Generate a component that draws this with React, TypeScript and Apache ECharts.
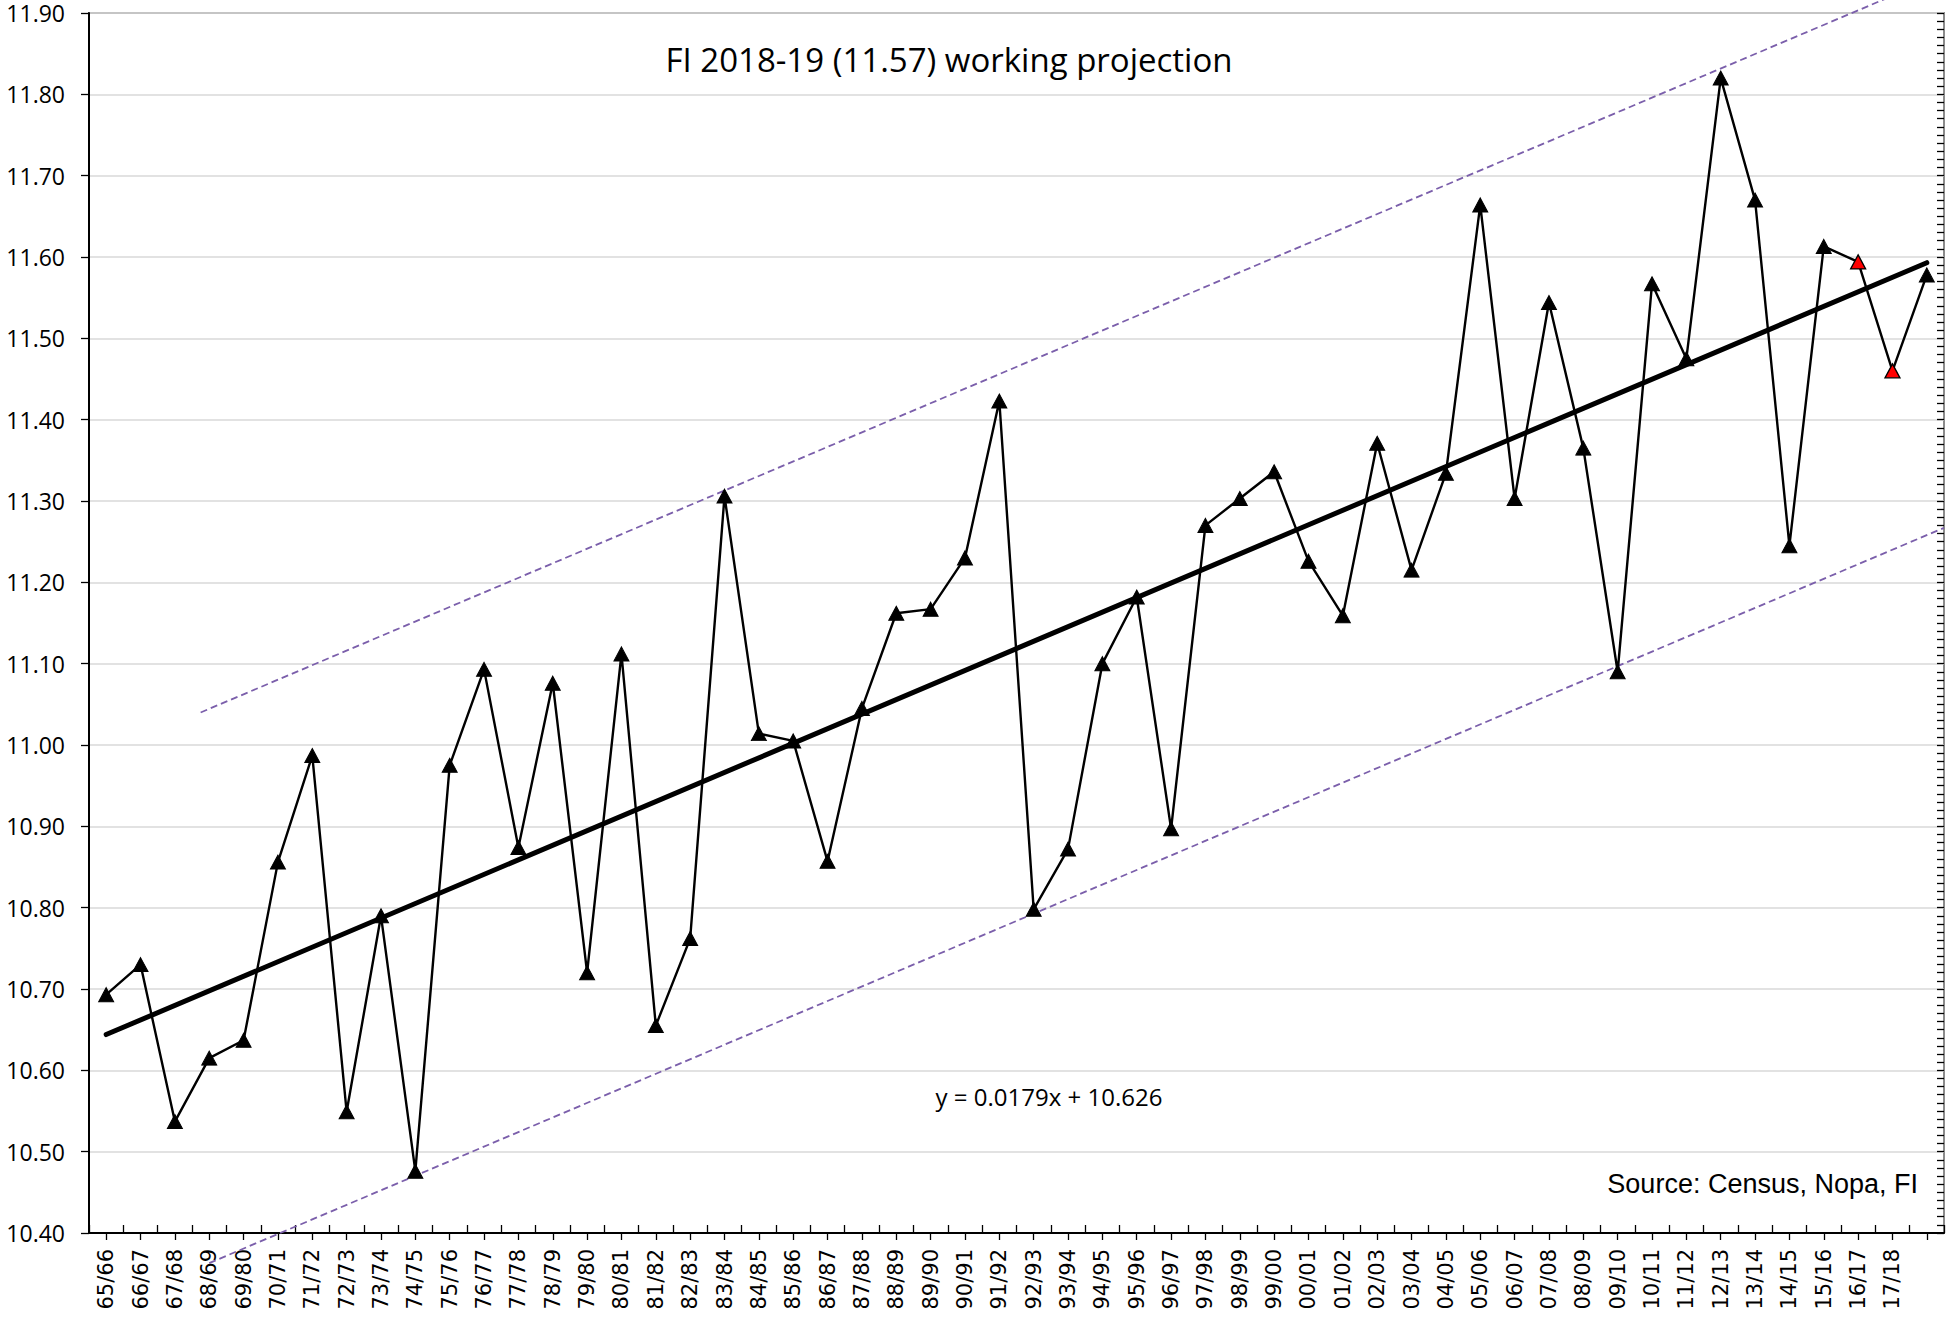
import React, { useEffect, useRef } from 'react';
import * as echarts from 'echarts';

const categories = [
  '65/66', '66/67', '67/68', '68/69', '69/80', '70/71', '71/72', '72/73', '73/74', '74/75',
  '75/76', '76/77', '77/78', '78/79', '79/80', '80/81', '81/82', '82/83', '83/84', '84/85',
  '85/86', '86/87', '87/88', '88/89', '89/90', '90/91', '91/92', '92/93', '93/94', '94/95',
  '95/96', '96/97', '97/98', '98/99', '99/00', '00/01', '01/02', '02/03', '03/04', '04/05',
  '05/06', '06/07', '07/08', '08/09', '09/10', '10/11', '11/12', '12/13', '13/14', '14/15',
  '15/16', '16/17', '17/18', '',
];

const values = [
  10.693, 10.73, 10.537, 10.615, 10.637, 10.856, 10.987, 10.549, 10.79, 10.476,
  10.975, 11.093, 10.874, 11.076, 10.72, 11.112, 10.655, 10.762, 11.306, 11.014,
  11.005, 10.857, 11.045, 11.162, 11.167, 11.23, 11.423, 10.798, 10.872, 11.1,
  11.182, 10.897, 11.27, 11.303, 11.336, 11.226, 11.159, 11.371, 11.215, 11.334,
  11.664, 11.303, 11.544, 11.365, 11.09, 11.567, 11.475, 11.82, 11.67, 11.245,
  11.613, 11.594, 11.46, 11.578,
];

// categories whose markers are drawn in red
const redCategories = ['16/17', '17/18'];

// linear trend y = 0.0179x + 10.626 (endpoints, x = category number)
const trendX = [1, 54];
const trendY = [10.644, 11.593];
// dashed channel lines
const upperX = [3.75, 54.5];
const upperY = [11.04, 11.948];
const lowerX = [4, 54.5];
const lowerY = [10.363, 11.267];

const yMin = 10.4;
const yMax = 11.9;
const yInterval = 0.1;

const titleText = 'FI 2018-19 (11.57) working projection';
const equationText = 'y = 0.0179x + 10.626';
const sourceText = 'Source: Census, Nopa, FI';

export default function App() {
  const ref = useRef<HTMLDivElement>(null);

  useEffect(() => {
    if (!ref.current) return;
    const chart = echarts.init(ref.current, undefined, { renderer: 'svg' });

    const mainData = values.map((v, i) =>
      redCategories.includes(categories[i])
        ? { value: v, itemStyle: { color: '#ff0000', borderColor: '#000000', borderWidth: 1.3 } }
        : { value: v, itemStyle: { color: '#000000', borderColor: '#000000', borderWidth: 1 } }
    );

    const grid = { left: 89, right: 2, top: 13, bottom: 85 };

    chart.setOption({
      animation: false,
      backgroundColor: '#ffffff',
      grid: {
        ...grid,
        show: true,
        borderColor: '#8c8c8c',
        borderWidth: 2,
        backgroundColor: 'transparent',
      },
      xAxis: [
        {
          type: 'category',
          data: categories,
          boundaryGap: true,
          position: 'bottom',
          axisLine: { show: true, lineStyle: { color: '#000000', width: 2 } },
          axisTick: { show: true, alignWithLabel: true, interval: 0, length: 7, lineStyle: { color: '#000000', width: 1.3 } },
          axisLabel: {
            show: true,
            interval: 0,
            rotate: 90,
            margin: 16,
            color: '#000000',
            fontFamily: 'DejaVu Sans',
            fontSize: 21,
          },
          splitLine: { show: false },
        },
        {
          type: 'category',
          data: categories,
          boundaryGap: true,
          position: 'bottom',
          axisLine: { show: false },
          axisTick: { show: true, inside: true, interval: 0, length: 8, lineStyle: { color: '#000000', width: 1.3 } },
          axisLabel: { show: false },
          splitLine: { show: false },
        },
        {
          type: 'value',
          min: 0.5,
          max: 54.5,
          show: false,
        },
      ],
      yAxis: [
        {
          type: 'value',
          min: yMin,
          max: yMax,
          interval: yInterval,
          axisLine: { show: true, lineStyle: { color: '#000000', width: 2 } },
          axisTick: { show: true, length: 8, lineStyle: { color: '#000000', width: 1.3 } },
          axisLabel: {
            color: '#000000',
            fontFamily: 'Open Sans',
            fontSize: 23,
            lineHeight: 20,
            margin: 24,
            formatter: (v: number) => v.toFixed(2),
          },
          splitLine: { show: true, lineStyle: { color: '#d9d9d9', width: 1.5 } },
        },
        {
          type: 'value',
          min: yMin,
          max: yMax,
          interval: yInterval,
          axisLine: { show: false },
          axisTick: { show: true, inside: true, length: 7, lineStyle: { color: '#000000', width: 1.3 } },
          minorTick: { show: true, splitNumber: 10, length: 7, lineStyle: { color: '#000000', width: 1.3 } },
          axisLabel: { show: false },
          splitLine: { show: false },
        },
      ],
      series: [
        {
          type: 'line',
          xAxisIndex: 2,
          yAxisIndex: 0,
          data: upperX.map((x, i) => [x, upperY[i]]),
          symbol: 'none',
          clip: false,
          lineStyle: { color: '#7b5fab', width: 1.8, type: [7, 4] },
          z: 1,
        },
        {
          type: 'line',
          xAxisIndex: 2,
          yAxisIndex: 0,
          data: lowerX.map((x, i) => [x, lowerY[i]]),
          symbol: 'none',
          clip: false,
          lineStyle: { color: '#7b5fab', width: 1.8, type: [7, 4] },
          z: 1,
        },
        {
          type: 'line',
          xAxisIndex: 0,
          yAxisIndex: 0,
          data: mainData,
          symbol: 'triangle',
          symbolSize: [15, 14],
          showAllSymbol: true,
          lineStyle: { color: '#000000', width: 2.4 },
          itemStyle: { color: '#000000' },
          z: 3,
        },
        {
          type: 'line',
          xAxisIndex: 2,
          yAxisIndex: 0,
          data: trendX.map((x, i) => [x, trendY[i]]),
          symbol: 'none',
          lineStyle: { color: '#000000', width: 5, cap: 'round' },
          z: 2,
        },
      ],
      graphic: [
        {
          type: 'text',
          x: 949,
          y: 59,
          style: {
            text: titleText,
            fill: '#000000',
            font: '33px "Open Sans"',
            align: 'center',
            verticalAlign: 'middle',
          },
        },
        {
          type: 'text',
          x: 1049,
          y: 1096,
          style: {
            text: equationText,
            fill: '#000000',
            font: '24px "Open Sans"',
            align: 'center',
            verticalAlign: 'middle',
          },
        },
        {
          type: 'text',
          x: 1918,
          y: 1184,
          style: {
            text: sourceText,
            fill: '#000000',
            font: '27px "Liberation Sans"',
            align: 'right',
            verticalAlign: 'middle',
          },
        },
      ],
    });

    return () => {
      chart.dispose();
    };
  }, []);

  return (
    <div
      ref={ref}
      style={{ position: 'absolute', left: 0, top: 0, width: 1946, height: 1318 }}
    />
  );
}
